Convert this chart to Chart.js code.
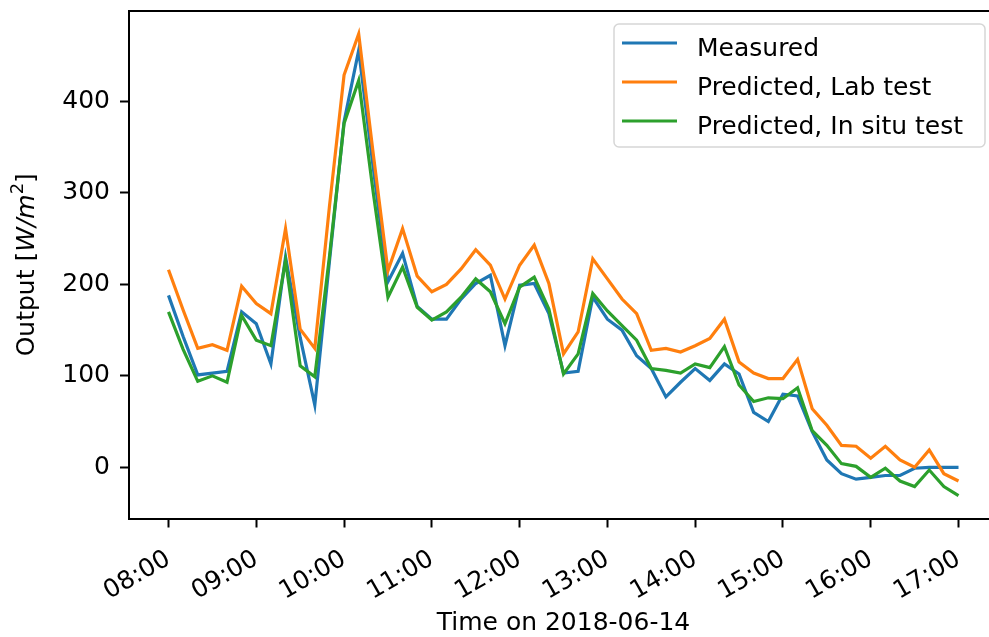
<!DOCTYPE html>
<html>
<head>
<meta charset="utf-8">
<title>Output vs time</title>
<script src="https://cdn.jsdelivr.net/npm/chart.js@4.4.1/dist/chart.umd.min.js"></script>
<style>
  html, body { margin: 0; padding: 0; background: #fff; overflow: hidden; }
  #wrap { position: relative; width: 1000px; height: 637px; }
</style>
</head>
<body>
<div id="wrap"><canvas id="outputChart" width="1000" height="637"></canvas></div>
<script>
// sample times (10 min steps)
const times = [
  "08:00", "08:10", "08:20", "08:30", "08:40", "08:50",
  "09:00", "09:10", "09:20", "09:30", "09:40", "09:50",
  "10:00", "10:10", "10:20", "10:30", "10:40", "10:50",
  "11:00", "11:10", "11:20", "11:30", "11:40", "11:50",
  "12:00", "12:10", "12:20", "12:30", "12:40", "12:50",
  "13:00", "13:10", "13:20", "13:30", "13:40", "13:50",
  "14:00", "14:10", "14:20", "14:30", "14:40", "14:50",
  "15:00", "15:10", "15:20", "15:30", "15:40", "15:50",
  "16:00", "16:10", "16:20", "16:30", "16:40", "16:50",
  "17:00",
];

const measured = [
  188, 143, 101, 103, 105, 170, 157, 113, 230, 142, 68,
  225, 378, 456, 327, 203, 234, 176, 162, 162, 184, 201,
  210, 133, 199, 201, 168, 103, 105, 186, 162, 150, 122,
  108, 77, 93, 108, 95, 113, 102, 60, 50, 80, 78,
  39, 8, -7, -13, -11, -9, -9, -1, 0, 0, 0,
];

const predictedLab = [
  216, 172, 130, 134, 128, 198, 179, 168, 261, 151, 130,
  285, 429, 474, 342, 215, 261, 209, 192, 200, 217, 238,
  221, 184, 221, 243, 201, 124, 148, 228, 206, 184, 168,
  128, 130, 126, 133, 141, 162, 115, 103, 97, 97, 118,
  64, 46, 24, 23, 10, 23, 8, 0, 19, -7, -15,
];

const predictedInSitu = [
  170, 129, 94, 100, 93, 166, 139, 133, 226, 111, 99,
  230, 376, 423, 300, 186, 219, 175, 161, 170, 186, 206,
  192, 157, 197, 208, 173, 102, 124, 190, 171, 155, 139,
  108, 106, 103, 113, 109, 132, 90, 72, 76, 75, 87,
  40, 24, 4, 1, -11, -1, -15, -21, -3, -21, -31,
];

const seriesNames = ["Measured", "Predicted, Lab test", "Predicted, In situ test"];
const seriesColors = ["#1f77b4", "#ff7f0e", "#2ca02c"];
const xTickLabels = ["08:00", "09:00", "10:00", "11:00", "12:00", "13:00", "14:00", "15:00", "16:00", "17:00"];
const yTicks = [0, 100, 200, 300, 400];
const xTitle = "Time on 2018-06-14";

const FONT = "'DejaVu Sans', 'Liberation Sans', sans-serif";
const FONT_SIZE = 25;

function toMinutes(label) {
  const [h, m] = label.split(":").map(Number);
  const [h0, m0] = times[0].split(":").map(Number);
  return (h - h0) * 60 + (m - m0);
}

function toPoints(values) {
  return times.map((t, i) => ({ x: toMinutes(t), y: values[i] }));
}

// frame, axis titles and legend drawn like matplotlib
const decorPlugin = {
  id: "decor",
  afterDraw(chart) {
    const { ctx, chartArea } = chart;
    ctx.save();
    // top / right spines
    ctx.strokeStyle = "#000";
    ctx.lineWidth = 2;
    ctx.beginPath();
    ctx.moveTo(chartArea.left, chartArea.top);
    ctx.lineTo(chartArea.right, chartArea.top);
    ctx.lineTo(chartArea.right, chartArea.bottom);
    ctx.stroke();

    // x title
    ctx.fillStyle = "#000";
    ctx.font = `${FONT_SIZE}px ${FONT}`;
    ctx.textAlign = "center";
    ctx.textBaseline = "alphabetic";
    ctx.fillText(xTitle, (chartArea.left + chartArea.right) / 2, 630);

    // y title: Output [W/m^2]
    const parts = [
      { text: "Output [", font: `${FONT_SIZE}px ${FONT}`, dy: 0 },
      { text: "W/m", font: `italic ${FONT_SIZE}px ${FONT}`, dy: 0 },
      { text: "2", font: `${Math.round(FONT_SIZE * 0.7)}px ${FONT}`, dy: -9 },
      { text: "]", font: `${FONT_SIZE}px ${FONT}`, dy: 0 },
    ];
    let total = 0;
    parts.forEach((p) => {
      ctx.font = p.font;
      p.w = ctx.measureText(p.text).width;
      total += p.w;
    });
    ctx.translate(27, (chartArea.top + chartArea.bottom) / 2);
    ctx.rotate(-Math.PI / 2);
    ctx.textAlign = "left";
    ctx.textBaseline = "middle";
    let px = -total / 2;
    parts.forEach((p) => {
      ctx.font = p.font;
      ctx.fillText(p.text, px, p.dy);
      px += p.w;
    });
    ctx.restore();

    // legend
    ctx.save();
    const lx = 614, ly = 24, lw = 371, lh = 123;
    ctx.beginPath();
    ctx.roundRect(lx, ly, lw, lh, 5);
    ctx.fillStyle = "rgba(255,255,255,0.8)";
    ctx.fill();
    ctx.strokeStyle = "#d6d6d6";
    ctx.lineWidth = 1.5;
    ctx.stroke();
    const rows = [43, 82, 121];
    ctx.font = `${FONT_SIZE}px ${FONT}`;
    ctx.textAlign = "left";
    ctx.textBaseline = "alphabetic";
    seriesNames.forEach((name, i) => {
      ctx.strokeStyle = seriesColors[i];
      ctx.lineWidth = 3.2;
      ctx.beginPath();
      ctx.moveTo(622, rows[i]);
      ctx.lineTo(677, rows[i]);
      ctx.stroke();
      ctx.fillStyle = "#000";
      ctx.fillText(name, 697, rows[i] + 13);
    });
    ctx.restore();
  },
};

const ctx = document.getElementById("outputChart").getContext("2d");
new Chart(ctx, {
  type: "line",
  data: {
    datasets: [
      { label: seriesNames[0], data: toPoints(measured), borderColor: seriesColors[0], order: 2 },
      { label: seriesNames[1], data: toPoints(predictedLab), borderColor: seriesColors[1], order: 1 },
      { label: seriesNames[2], data: toPoints(predictedInSitu), borderColor: seriesColors[2], order: 0 },
    ],
  },
  options: {
    responsive: false,
    animation: false,
    devicePixelRatio: 1,
    layout: { padding: { top: 11, right: 2, left: 0, bottom: 0 } },
    elements: {
      line: { borderWidth: 3.2, tension: 0, fill: false, borderCapStyle: "butt" },
      point: { radius: 0, hoverRadius: 0 },
    },
    plugins: {
      legend: { display: false },
      tooltip: { enabled: false },
    },
    scales: {
      x: {
        type: "linear",
        min: -27,
        max: 567,
        afterBuildTicks: (scale) => {
          scale.ticks = xTickLabels.map((l) => ({ value: toMinutes(l) }));
        },
        afterFit: (scale) => {
          scale.height = 118.5;
          scale.paddingLeft = 0;
          scale.paddingRight = 0;
        },
        ticks: {
          autoSkip: false,
          minRotation: 30,
          maxRotation: 30,
          padding: 17,
          color: "#000",
          font: { family: FONT, size: FONT_SIZE },
          callback: (value) => xTickLabels.find((l) => toMinutes(l) === value) || "",
        },
        grid: {
          drawOnChartArea: false,
          drawTicks: true,
          tickLength: 9,
          tickWidth: 2,
          tickColor: "#000",
        },
        border: { display: true, color: "#000", width: 2 },
      },
      y: {
        type: "linear",
        min: -56,
        max: 499,
        afterBuildTicks: (scale) => {
          scale.ticks = yTicks.map((v) => ({ value: v }));
        },
        afterFit: (scale) => {
          scale.width = 129;
          scale.paddingTop = 0;
          scale.paddingBottom = 0;
        },
        ticks: {
          padding: 10,
          color: "#000",
          font: { family: FONT, size: FONT_SIZE },
        },
        grid: {
          drawOnChartArea: false,
          drawTicks: true,
          tickLength: 9,
          tickWidth: 2,
          tickColor: "#000",
        },
        border: { display: true, color: "#000", width: 2 },
      },
    },
  },
  plugins: [decorPlugin],
});
</script>
</body>
</html>
